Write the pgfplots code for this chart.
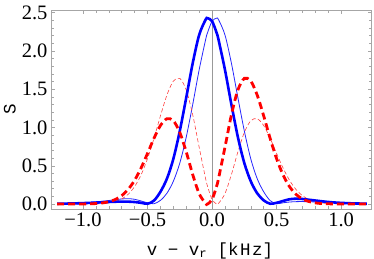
\documentclass[border=0pt]{standalone}
\usepackage{fontspec}
\setmainfont{Liberation Serif}
\newfontfamily\monofont{Liberation Mono}
\usepackage{pgfplots}
\pgfplotsset{compat=1.18}
\usepackage{pgfplotstable}

\pgfplotstableread{
x      bk     bn     rk     rn
-1.20  0.004  0.004  0.000  0.000
-1.15  0.005  0.006  0.000  0.000
-1.10  0.007  0.008  0.000  0.000
-1.05  0.009  0.011  0.000  0.000
-1.00  0.012  0.015  0.001  0.000
-0.95  0.015  0.020  0.003  0.001
-0.90  0.019  0.027  0.006  0.003
-0.85  0.023  0.036  0.014  0.006
-0.80  0.027  0.046  0.030  0.015
-0.75  0.030  0.056  0.059  0.033
-0.70  0.032  0.066  0.110  0.067
-0.65  0.031  0.070  0.191  0.127
-0.60  0.026  0.062  0.311  0.228
-0.55  0.016  0.040  0.471  0.381
-0.50  0.004  0.016  0.662  0.593
-0.45  0.045  0.004  0.859  0.858
-0.40  0.160  0.048  1.026  1.152
-0.35  0.330  0.140  1.115  1.423
-0.30  0.590  0.297  1.089  1.607
-0.25  0.955  0.535  0.936  1.642
-0.20  1.391  0.875  0.681  1.490
-0.15  1.840  1.300  0.386  1.166
-0.10  2.210  1.754  0.136  0.742
-0.05  2.410  2.148  0.008  0.332
-0.035 2.429  2.240  0.000  0.231
 0.00  2.390  2.390  0.060  0.060
 0.035 2.240  2.429  0.231  0.000
 0.05  2.148  2.410  0.332  0.008
 0.10  1.754  2.210  0.742  0.136
 0.15  1.300  1.840  1.166  0.386
 0.20  0.875  1.391  1.490  0.681
 0.25  0.535  0.955  1.642  0.936
 0.30  0.297  0.590  1.607  1.089
 0.35  0.140  0.330  1.423  1.115
 0.40  0.048  0.160  1.152  1.026
 0.45  0.004  0.045  0.858  0.859
 0.50  0.016  0.004  0.593  0.662
 0.55  0.040  0.016  0.381  0.471
 0.60  0.062  0.026  0.228  0.311
 0.65  0.070  0.031  0.127  0.191
 0.70  0.066  0.032  0.067  0.110
 0.75  0.056  0.030  0.033  0.059
 0.80  0.046  0.027  0.015  0.030
 0.85  0.036  0.023  0.006  0.014
 0.90  0.027  0.019  0.003  0.006
 0.95  0.020  0.015  0.001  0.003
 1.00  0.015  0.012  0.000  0.001
 1.05  0.011  0.009  0.000  0.000
 1.10  0.008  0.007  0.000  0.000
 1.15  0.006  0.005  0.000  0.000
 1.20  0.004  0.004  0.000  0.000
}\data

\begin{document}
\begin{tikzpicture}
\begin{axis}[
  name=ax, at={(0,0)}, anchor=south west,
  width=320.7pt, height=198.7pt, scale only axis,
  xmin=-1.248, xmax=1.237, ymin=-0.065, ymax=2.532,
  axis line style={gray!70, line width=0.5pt},
  tick align=inside,
  xtick={-1,-0.5,0,0.5,1},
  xticklabels={−1.0,−0.5,0.0,0.5,1.0},
  ytick={0,0.5,1,1.5,2,2.5},
  yticklabels={0.0,0.5,1.0,1.5,2.0,2.5},
  minor x tick num=4, minor y tick num=4,
  major tick length=4pt, minor tick length=2.5pt,
  tick style={gray!70, line width=0.5pt},
  tick label style={font=\fontsize{20.5}{20.5}\selectfont, black},
  xlabel={v − v\textsubscript{r} [k\kern1.5ptH\kern1.5ptz]},
  ylabel={S},
  label style={font=\monofont\fontsize{17.5}{18}\selectfont},
  xlabel style={at={(axis description cs:0.496,-0.2315)}, anchor=base},
  ylabel style={at={(axis description cs:-0.128,0.5)}, anchor=center},
  clip=true,
]
\addplot[gray!80, line width=0.6pt] coordinates {(0,-1) (0,3)};
\addplot[blue!85, line width=0.8pt, smooth] table[x=x, y=bn] {\data};
\addplot[red!75, line width=0.6pt, smooth, dash pattern=on 4pt off 2.5pt] table[x=x, y=rn] {\data};
\addplot[blue, line width=2.6pt, smooth] table[x=x, y=bk] {\data};
\addplot[red, line width=2.8pt, smooth, dash pattern=on 7pt off 4pt] table[x=x, y=rk] {\data};
\end{axis}
\pgfresetboundingbox
\useasboundingbox (-51pt,-50pt) rectangle (323pt,209pt);
\end{tikzpicture}
\end{document}
